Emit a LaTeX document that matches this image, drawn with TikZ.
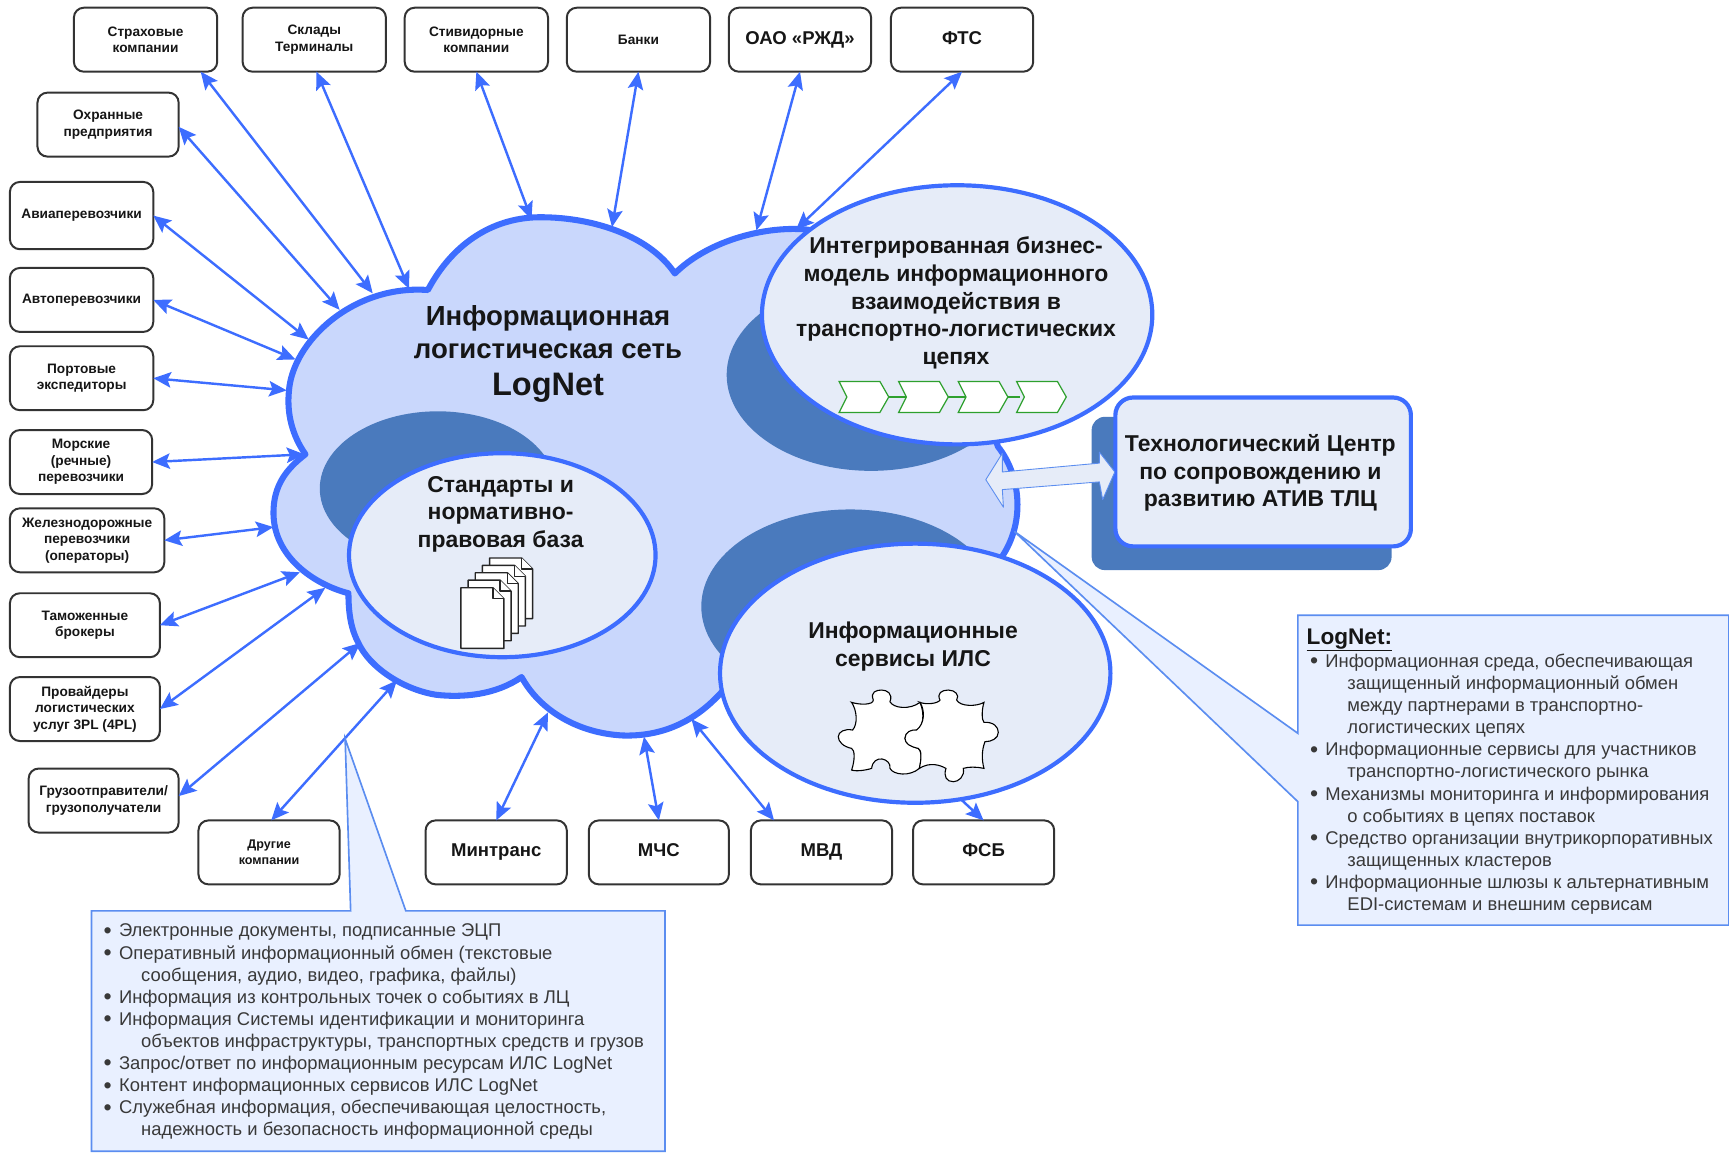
\documentclass[tikz,border=0pt]{standalone}
\usepackage{fontspec}
\setmainfont{Liberation Sans}
\usetikzlibrary{arrows.meta,shapes.geometric}
\definecolor{cloudfill}{HTML}{C9D7FC}
\definecolor{bluel}{HTML}{3D6DFF}
\definecolor{darkb}{HTML}{4A7ABD}
\definecolor{palef}{HTML}{E6ECF8}
\definecolor{callf}{HTML}{E9F0FF}
\definecolor{callb}{HTML}{5B8DF0}
\definecolor{greenl}{HTML}{2EA02E}
\definecolor{ink}{HTML}{161616}
\definecolor{boxl}{HTML}{333333}
\newcommand{\itm}[1]{\makebox[14pt][l]{\raisebox{-1.2pt}[0pt][0pt]{\fontsize{21}{20}\selectfont •}}#1}
\newcommand{\cnt}[1]{\hspace{34pt}#1}
\tikzset{
  x=1pt,y=-1pt,
  every node/.style={inner sep=0pt,outer sep=0pt,text=ink},
  actor/.style={draw=boxl,line width=1.8pt,rounded corners=9pt,fill=white,align=center,minimum height=58pt,font=\bfseries\fontsize{12.4}{15}\selectfont},
  bigactor/.style={actor,font=\bfseries\fontsize{16.8}{20}\selectfont,text height=12pt,text depth=4pt},
  conn/.style={draw=bluel,line width=2.2pt,{Stealth[length=16pt,width=14pt,inset=3pt]}-{Stealth[length=16pt,width=14pt,inset=3pt]}},
  main/.style={ellipse,draw=bluel,line width=3.8pt,fill=palef},
  shade/.style={ellipse,fill=darkb},
  head/.style={font=\bfseries\fontsize{20.8}{25}\selectfont,align=center},
  chev/.style={draw=greenl,line width=1.1pt,fill=white},
  page/.style={draw=black!85,line width=1.3pt,fill=white,line join=round},
  call/.style={draw=callb,line width=1.5pt,fill=callf,line join=miter},
  listtxt/.style={align=left,anchor=north west,text=ink!85,font=\fontsize{16.7}{20.05}\selectfont}
}
\newcommand{\docpage}[2]{%
  \begin{scope}[shift={(#1,#2)}]
    \draw[page] (0,0) -- (29,0) -- (39,10) -- (39,55) -- (0,55) -- cycle;
    \draw[page] (29,0) -- (29,10) -- (39,10);
  \end{scope}}
\newcommand{\chevron}[1]{%
  \begin{scope}[shift={(#1,346)}]
    \draw[chev] (0,0) -- (37,0) -- (45,14) -- (37,28) -- (0,28) -- (7,14) -- cycle;
  \end{scope}}
\begin{document}
\begin{tikzpicture}
\useasboundingbox (0,0) rectangle (1568,1045);
% cloud
\draw[fill=cloudfill,draw=bluel,line width=5.5pt,line join=round]
 (388,263) .. controls (412,218) and (450,197) .. (490,197)
 .. controls (540,197) and (590,215) .. (612,248)
 .. controls (640,220) and (690,205) .. (730,208)
 .. controls (800,215) and (880,330) .. (905,405)
 .. controls (925,430) and (932,475) .. (905,510)
 .. controls (898,520) and (895,525) .. (893,530)
 .. controls (860,600) and (750,620) .. (655,627)
 .. controls (630,655) and (600,668) .. (565,667)
 .. controls (525,665) and (490,645) .. (473,614)
 .. controls (450,630) and (420,633) .. (395,630)
 .. controls (365,625) and (335,605) .. (325,583)
 .. controls (318,570) and (316,555) .. (316,538)
 .. controls (285,530) and (248,505) .. (248,465)
 .. controls (248,440) and (260,425) .. (277,412)
 .. controls (265,395) and (260,375) .. (262,355)
 .. controls (265,310) and (320,258) .. cycle;
% actors
\node[actor,minimum width=130pt] (strah) at (132,36) {Страховые\\компании};
\node[actor,minimum width=130pt] (sklad) at (285,36) {Склады\\Терминалы};
\node[actor,minimum width=130pt] (stiv) at (432,36) {Стивидорные\\компании};
\node[actor,minimum width=130pt] (bank) at (579,36) {Банки};
\node[bigactor,minimum width=129pt] (oao) at (725.5,36) {ОАО «РЖД»};
\node[bigactor,minimum width=129pt] (fts) at (872.5,36) {ФТС};
\node[actor,minimum width=128pt] (ohr) at (98,113) {Охранные\\предприятия};
\node[actor,minimum width=130pt,minimum height=61pt] (avia) at (74,195.5) {Авиаперевозчики};
\node[actor,minimum width=130pt] (avto) at (74,272) {Автоперевозчики};
\node[actor,minimum width=130pt] (port) at (74,343) {Портовые\\экспедиторы};
\node[actor,minimum width=129pt] (mor) at (73.5,419) {Морские\\(речные)\\перевозчики};
\node[actor,minimum width=140pt] (jel) at (79,490) {Железнодорожные\\перевозчики\\(операторы)};
\node[actor,minimum width=136pt] (tam) at (77,567) {Таможенные\\брокеры};
\node[actor,minimum width=136pt] (prov) at (77,643) {Провайдеры\\логистических\\услуг 3PL (4PL)};
\node[actor,minimum width=136pt] (gruz) at (94,726) {Грузоотправители/\\грузополучатели};
\node[actor,minimum width=128pt,font=\bfseries\fontsize{11.4}{15}\selectfont] (drug) at (244,773) {Другие\\компании};
\node[bigactor,minimum width=128pt] (mint) at (450,773) {Минтранс};
\node[bigactor,minimum width=127pt] (mchs) at (597.5,773) {МЧС};
\node[bigactor,minimum width=128pt] (mvd) at (745,773) {МВД};
\node[bigactor,minimum width=128pt] (fsb) at (892,773) {ФСБ};
% cloud-end coordinates
\coordinate (c1) at (338,266);
\coordinate (c2) at (371,262);
\coordinate (c3) at (482,199);
\coordinate (c4) at (555,206);
\coordinate (c5) at (686,209);
\coordinate (c6) at (722,208);
\coordinate (c7) at (308,281);
\coordinate (c8) at (280,308);
\coordinate (c9) at (268,326);
\coordinate (c10) at (260,354);
\coordinate (c11) at (276,412);
\coordinate (c12) at (248,478);
\coordinate (c13) at (272,519);
\coordinate (c14) at (295,533);
\coordinate (c15) at (327,583);
\coordinate (c16) at (360,617);
\coordinate (c17) at (497,646);
\coordinate (c18) at (584,668);
\coordinate (c19) at (627,652);
\coordinate (c20) at (850,705);
\draw[conn] ([xshift=-15pt]strah.south east) -- (c1);
\draw[conn] ([xshift=2pt]sklad.south) -- (c2);
\draw[conn] (stiv.south) -- (c3);
\draw[conn] (bank.south) -- (c4);
\draw[conn] (oao.south) -- (c5);
\draw[conn] (fts.south) -- (c6);
\draw[conn] ([yshift=-2pt]ohr.east) -- (c7);
\draw[conn] (avia.east) -- (c8);
\draw[conn] (avto.east) -- (c9);
\draw[conn] (port.east) -- (c10);
\draw[conn] (mor.east) -- (c11);
\draw[conn] (jel.east) -- (c12);
\draw[conn] (tam.east) -- (c13);
\draw[conn] (prov.east) -- (c14);
\draw[conn] ([yshift=4pt]gruz.east) -- (c15);
\draw[conn] ([xshift=2pt]drug.north) -- (c16);
\draw[conn] (mint.north) -- (c17);
\draw[conn] (mchs.north) -- (c18);
\draw[conn] ([xshift=21pt]mvd.north west) -- (c19);
\draw[conn] (fsb.north) -- (c20);
% shaded ellipses and main ellipses
\node[shade,minimum width=262pt,minimum height=174pt] (s1) at (790,340) {};
\node[main,minimum width=354pt,minimum height=235pt] (e1) at (868,285.5) {};
\node[shade,minimum width=214pt,minimum height=140pt] (s2) at (397,443) {};
\node[main,minimum width=278pt,minimum height=185pt] (e2) at (455.5,503.5) {};
\node[shade,minimum width=270pt,minimum height=176pt] (s3) at (771,550) {};
\node[main,minimum width=354pt,minimum height=235pt] (e3) at (830,610.5) {};
% texts
\node[font=\bfseries\fontsize{25}{30}\selectfont,align=center,anchor=north] (t0) at (497,277)
  {Информационная\\логистическая сеть\\[4pt]{\fontsize{29.5}{30}\selectfont LogNet}};
\node[head,anchor=north] (t1) at (867,215) {Интегрированная бизнес-\\модель информационного\\взаимодействия в\\транспортно-логистических\\цепях};
\node[head,anchor=north] (t2) at (454,432) {Стандарты и\\нормативно-\\правовая база};
\node[head,anchor=north] (t3) at (828,564) {Информационные\\сервисы ИЛС};
% chevrons
\draw[greenl,line width=2pt] (800,360) -- (925,360);
\chevron{761}\chevron{815}\chevron{869}\chevron{922}
% documents
\docpage{444}{506}\docpage{437.5}{512.7}\docpage{431}{519.4}\docpage{424.5}{526.1}\docpage{418}{533}
% puzzle
\begin{scope}[shift={(598.5,471.6)},scale=0.3023]
\draw[fill=white,draw=black,line width=1pt]
 (575,547) .. controls (600,555) and (640,555) .. (640,540)
 .. controls (630,515) and (650,510) .. (665,510)
 .. controls (680,510) and (700,520) .. (690,545)
 .. controls (700,565) and (750,570) .. (780,547)
 .. controls (795,580) and (790,625) .. (770,630)
 .. controls (750,630) and (735,640) .. (735,655)
 .. controls (735,670) and (755,680) .. (775,685)
 .. controls (785,690) and (785,720) .. (778,745)
 .. controls (750,770) and (700,765) .. (690,745)
 .. controls (695,715) and (640,700) .. (635,745)
 .. controls (620,750) and (590,755) .. (575,750)
 .. controls (585,720) and (585,690) .. (575,685)
 .. controls (550,680) and (535,665) .. (535,650)
 .. controls (535,635) and (555,625) .. (578,630)
 .. controls (595,610) and (590,570) .. cycle;
\draw[fill=white,draw=black,line width=1pt]
 (780,547) .. controls (800,555) and (835,550) .. (840,540)
 .. controls (830,520) and (845,510) .. (865,510)
 .. controls (885,510) and (900,525) .. (890,540)
 .. controls (900,560) and (950,560) .. (972,547)
 .. controls (965,570) and (965,600) .. (972,607)
 .. controls (1000,605) and (1015,620) .. (1015,637)
 .. controls (1015,655) and (995,665) .. (975,665)
 .. controls (965,690) and (965,720) .. (972,745)
 .. controls (950,740) and (925,740) .. (910,745)
 .. controls (915,770) and (895,785) .. (880,785)
 .. controls (860,785) and (850,770) .. (858,745)
 .. controls (840,735) and (810,725) .. (778,745)
 .. controls (785,715) and (785,690) .. (775,685)
 .. controls (750,680) and (735,670) .. (735,655)
 .. controls (735,635) and (755,628) .. (770,630)
 .. controls (795,610) and (795,570) .. cycle;
\end{scope}
% technology centre
\fill[darkb,rounded corners=12pt] (990,378) rectangle (1262,517);
\node[draw=bluel,line width=3.8pt,fill=palef,rounded corners=16pt,minimum width=268pt,minimum height=135pt] (tech) at (1145.5,428) {};
\node[head,anchor=north] (t4) at (1143,394) {Технологический Центр\\по сопровождению и\\развитию АТИВ ТЛЦ};
% double block arrow
\draw[fill=palef,draw=callb,line width=0.8pt,line join=round]
  (894,435) -- (909,411) -- (909,428) -- (997,420) -- (997,410) -- (1011,428) -- (1000,453) -- (997,437) -- (909,444) -- (910,460) -- cycle;
% callouts
\draw[call] (83,826) -- (318,826) -- (313,670) -- (368,826) -- (603,826) -- (603,1044) -- (83,1044) -- cycle;
\draw[call] (1177,558) -- (1568,558) -- (1568,839) -- (1177,839) -- (1177,727) -- (920,482) -- (1177,665) -- cycle;
\node[listtxt] (list1) at (94,838) {%
\itm{Электронные документы, подписанные ЭЦП}\\
\itm{Оперативный информационный обмен (текстовые}\\
\cnt{сообщения, аудио, видео, графика, файлы)}\\
\itm{Информация из контрольных точек о событиях в ЛЦ}\\
\itm{Информация Системы идентификации и мониторинга}\\
\cnt{объектов инфраструктуры, транспортных средств и грузов}\\
\itm{Запрос/ответ по информационным ресурсам ИЛС LogNet}\\
\itm{Контент информационных сервисов ИЛС LogNet}\\
\itm{Служебная информация, обеспечивающая целостность,}\\
\cnt{надежность и безопасность информационной среды}};
\node[anchor=north west,font=\bfseries\fontsize{20.5}{22}\selectfont] (lt) at (1185,570) {\underline{LogNet:}};
\node[listtxt] (list2) at (1188,593) {%
\itm{Информационная среда, обеспечивающая}\\
\cnt{защищенный информационный обмен}\\
\cnt{между партнерами в транспортно-}\\
\cnt{логистических цепях}\\
\itm{Информационные сервисы для участников}\\
\cnt{транспортно-логистического рынка}\\
\itm{Механизмы мониторинга и информирования}\\
\cnt{о событиях в цепях поставок}\\
\itm{Средство организации внутрикорпоративных}\\
\cnt{защищенных кластеров}\\
\itm{Информационные шлюзы к альтернативным}\\
\cnt{EDI-системам и внешним сервисам}};
\end{tikzpicture}
\end{document}
